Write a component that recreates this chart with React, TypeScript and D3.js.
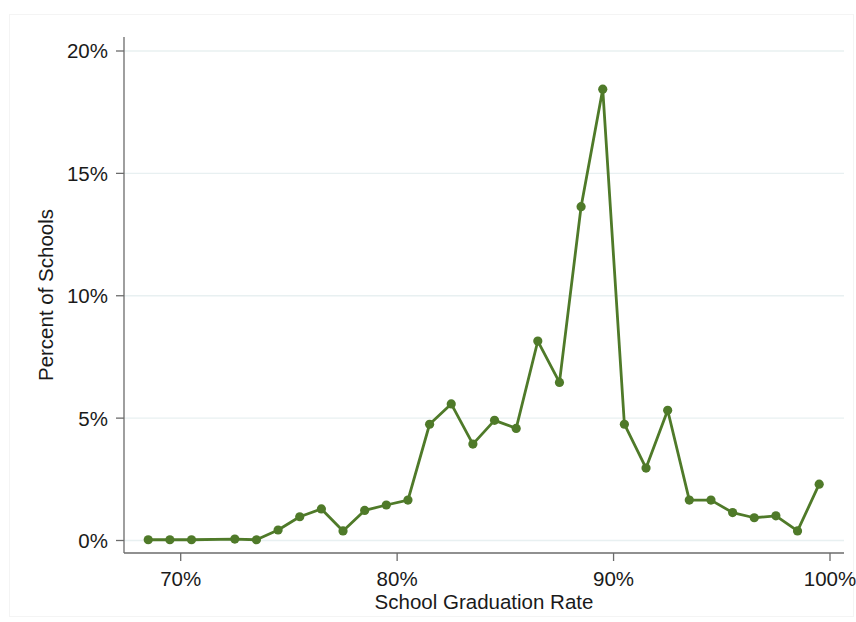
import React from "react";
import * as d3 from "d3";

// Distribution of schools by graduation rate (1-point bins, centered at x.5)
const gradRate = [
  68.5, 69.5, 70.5, 72.5, 73.5, 74.5, 75.5, 76.5, 77.5, 78.5, 79.5, 80.5,
  81.5, 82.5, 83.5, 84.5, 85.5, 86.5, 87.5, 88.5, 89.5, 90.5, 91.5, 92.5,
  93.5, 94.5, 95.5, 96.5, 97.5, 98.5, 99.5,
];
const pctSchools = [
  0.03, 0.03, 0.03, 0.06, 0.03, 0.43, 0.97, 1.29, 0.39, 1.23, 1.45, 1.65,
  4.75, 5.58, 3.94, 4.91, 4.58, 8.15, 6.46, 13.64, 18.44, 4.75, 2.96, 5.32,
  1.65, 1.65, 1.14, 0.93, 1.01, 0.39, 2.3,
];
const xTicks = [70, 80, 90, 100];
const yTicks = [0, 5, 10, 15, 20];

const W = 856;
const H = 622;
const left = 124;
const right = 844;
const top = 37;
const bottom = 553;
const lineColor = "#4f7a29";
const textColor = "#1a1a1a";
const font = "'Liberation Sans', Arial, sans-serif";
const fs = 20.5;

export default function App() {
  const x = d3.scaleLinear().domain([70, 100]).range([180.7, 830]);
  const y = d3.scaleLinear().domain([0, 20]).range([540.5, 51]);
  const pts = gradRate.map((g, i) => ({ g, v: pctSchools[i] }));
  const line = d3
    .line<{ g: number; v: number }>()
    .x((d) => x(d.g))
    .y((d) => y(d.v));

  return (
    <div style={{ position: "absolute", left: 0, top: 0 }}>
      <svg width={W} height={H} style={{ display: "block", background: "#fff" }}>
        <rect x={9.5} y={14.5} width={W - 12} height={H - 20} fill="none" stroke="#f4f4f4" />
        {/* horizontal gridlines */}
        {yTicks.map((t) => (
          <line key={"g" + t} x1={left} x2={right} y1={y(t)} y2={y(t)} stroke="#e8f0f1" strokeWidth={1.3} />
        ))}
        {/* axes */}
        <line x1={left} x2={left} y1={top} y2={bottom} stroke="#6b6b6b" strokeWidth={1.3} />
        <line x1={left} x2={right} y1={bottom} y2={bottom} stroke="#6b6b6b" strokeWidth={1.3} />
        {yTicks.map((t) => (
          <g key={"y" + t}>
            <line x1={left - 8} x2={left} y1={y(t)} y2={y(t)} stroke="#6b6b6b" strokeWidth={1.3} />
            <text x={108} y={y(t)} dy="0.36em" textAnchor="end" fontFamily={font} fontSize={fs} fill={textColor}>
              {t}%
            </text>
          </g>
        ))}
        {xTicks.map((t) => (
          <g key={"x" + t}>
            <line x1={x(t)} x2={x(t)} y1={bottom} y2={bottom + 8} stroke="#6b6b6b" strokeWidth={1.3} />
            <text x={x(t)} y={586} textAnchor="middle" fontFamily={font} fontSize={fs} fill={textColor}>
              {t}%
            </text>
          </g>
        ))}
        <text x={484} y={609} textAnchor="middle" fontFamily={font} fontSize={fs} fill={textColor}>
          School Graduation Rate
        </text>
        <text
          transform={`translate(53,295) rotate(-90)`}
          textAnchor="middle"
          fontFamily={font}
          fontSize={fs}
          fill={textColor}
        >
          Percent of Schools
        </text>
        {/* series */}
        <path d={line(pts) || ""} fill="none" stroke={lineColor} strokeWidth={2.8} strokeLinejoin="round" />
        {pts.map((d, i) => (
          <circle key={i} cx={x(d.g)} cy={y(d.v)} r={4.6} fill={lineColor} />
        ))}
      </svg>
    </div>
  );
}
